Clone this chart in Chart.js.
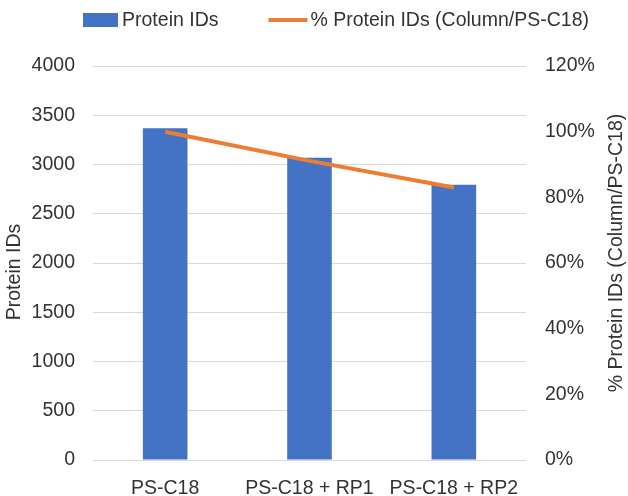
<!DOCTYPE html>
<html>
<head>
<meta charset="utf-8">
<script src="https://cdn.jsdelivr.net/npm/chart.js@4"></script>
<style>
  html, body { margin: 0; padding: 0; background: #fff; }
  #wrap { width: 628px; height: 496px; }
</style>
</head>
<body>
<div id="wrap"><canvas id="chart"></canvas></div>
<script>
var categories = ['PS-C18', 'PS-C18 + RP1', 'PS-C18 + RP2'];
var proteinIds = [3368, 3069, 2795];
var percentIds = [100, 91.1, 83.0];

var barLabel = 'Protein IDs';
var lineLabel = '% Protein IDs (Column/PS-C18)';
var barColor = '#4472C4';
var lineColor = '#ED7D31';
var textColor = '#333333';
var fontFamily = '"Liberation Sans", Arial, sans-serif';
var fontSize = 19.5;

// legend drawn by hand so the spacing can match the original
var legendPlugin = {
  id: 'handLegend',
  afterDraw: function (chart) {
    var ctx = chart.ctx;
    ctx.save();
    ctx.font = fontSize + 'px ' + fontFamily;
    ctx.textBaseline = 'middle';
    ctx.textAlign = 'left';
    var w1 = ctx.measureText(barLabel).width;
    var w2 = ctx.measureText(lineLabel).width;
    var total = 35 + 4 + w1 + 50 + 39 + 3 + w2;
    var x = chart.width / 2 + 22 - total / 2;
    var cy = 20;
    ctx.fillStyle = barColor;
    ctx.fillRect(x, cy - 7, 35, 14);
    x += 39;
    ctx.fillStyle = textColor;
    ctx.fillText(barLabel, x, cy + 1);
    x += w1 + 50;
    ctx.strokeStyle = lineColor;
    ctx.lineWidth = 4;
    ctx.beginPath();
    ctx.moveTo(x, cy);
    ctx.lineTo(x + 39, cy);
    ctx.stroke();
    x += 42;
    ctx.fillText(lineLabel, x, cy + 1);
    ctx.restore();
  }
};

// both axis titles, reading bottom-to-top
function drawVertical(ctx, text, x, y) {
  ctx.save();
  ctx.font = fontSize + 'px ' + fontFamily;
  ctx.fillStyle = textColor;
  ctx.textAlign = 'center';
  ctx.textBaseline = 'middle';
  ctx.translate(x, y);
  ctx.rotate(-Math.PI / 2);
  ctx.fillText(text, 0, 0);
  ctx.restore();
}

var axisTitlePlugin = {
  id: 'axisTitles',
  afterDraw: function (chart) {
    var l = chart.scales.y;
    var r = chart.scales.y1;
    var mid = (l.top + l.bottom) / 2;
    drawVertical(chart.ctx, barLabel, l.left + 15, mid + 9);
    drawVertical(chart.ctx, lineLabel, r.right - 11, mid - 10);
  }
};

Chart.defaults.font.family = fontFamily;
Chart.defaults.font.size = fontSize;
Chart.defaults.color = textColor;

new Chart(document.getElementById('chart'), {
  type: 'bar',
  data: {
    labels: categories,
    datasets: [
      {
        label: barLabel,
        data: proteinIds,
        backgroundColor: barColor,
        borderWidth: 0,
        yAxisID: 'y',
        order: 1,
        categoryPercentage: 1,
        barPercentage: 0.309
      },
      {
        type: 'line',
        label: lineLabel,
        data: percentIds,
        borderColor: lineColor,
        backgroundColor: lineColor,
        borderWidth: 4,
        pointRadius: 0,
        yAxisID: 'y1',
        order: 0
      }
    ]
  },
  options: {
    responsive: true,
    maintainAspectRatio: false,
    animation: false,
    layout: { padding: { top: 66, left: 0, right: 0, bottom: 0 } },
    plugins: {
      tooltip: { enabled: false },
      legend: { display: false }
    },
    scales: {
      x: {
        grid: { display: false, drawTicks: false },
        border: { display: false },
        ticks: { padding: 17, maxRotation: 0, minRotation: 0, autoSkip: false },
        afterFit: function (s) {
          s.height = 36;
          s.paddingLeft = 0;
          s.paddingRight = 0;
        }
      },
      y: {
        position: 'left',
        min: 0,
        max: 4000,
        ticks: {
          stepSize: 500,
          padding: 18,
          callback: function (v) { return String(v); }
        },
        grid: { color: '#d9d9d9', drawTicks: false },
        border: { display: false },
        title: { display: false },
        afterFit: function (s) { s.width = 93; }
      },
      y1: {
        position: 'right',
        min: 0,
        max: 120,
        ticks: {
          stepSize: 20,
          padding: 19,
          callback: function (v) { return v + '%'; }
        },
        grid: { display: false, drawTicks: false },
        border: { display: false },
        title: { display: false },
        afterFit: function (s) { s.width = 102; }
      }
    }
  },
  plugins: [legendPlugin, axisTitlePlugin]
});
</script>
</body>
</html>
